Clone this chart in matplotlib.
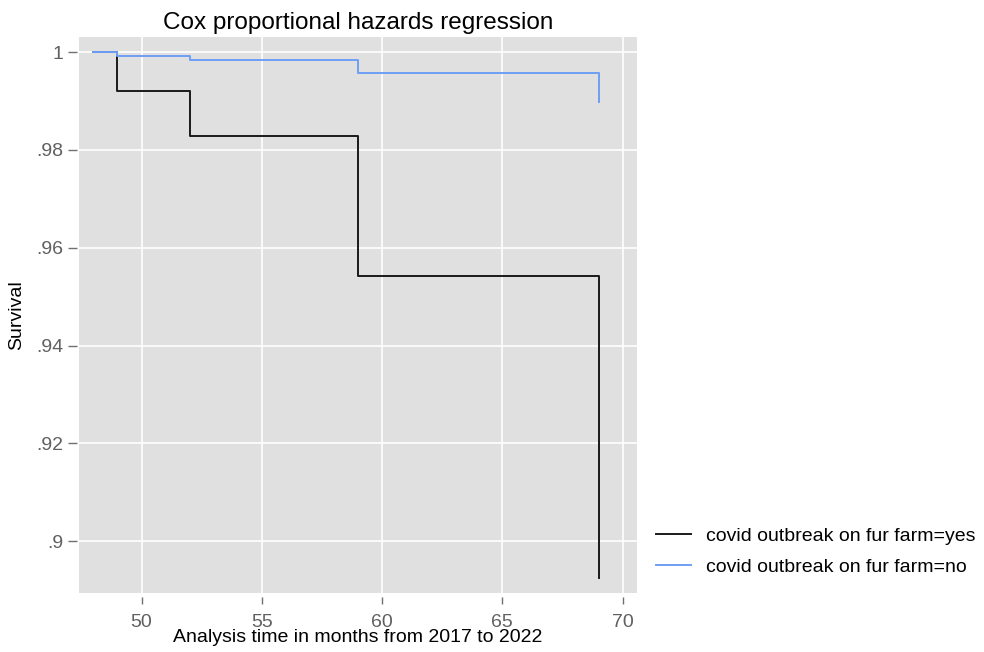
import matplotlib
matplotlib.use("agg")
import matplotlib.pyplot as plt
from matplotlib.ticker import FuncFormatter

# Survival step data (months, survival)
months = [48, 49, 52, 59, 69]
surv_yes = [1.0, 0.9920, 0.9828, 0.9542, 0.8924]
surv_no = [1.0, 0.9993, 0.9984, 0.9957, 0.9898]
labels = ["covid outbreak on fur farm=yes", "covid outbreak on fur farm=no"]

plt.rcParams.update({
    "font.family": ["Liberation Sans", "DejaVu Sans"],
})

fig = plt.figure(figsize=(9.84, 6.52), dpi=100, facecolor="white")
ax = fig.add_axes([79 / 984, 1 - 593 / 652, (637 - 79) / 984, (593 - 37) / 652])
ax.set_facecolor("#e0e0e0")

ax.step(months, surv_yes, where="post", color="#1a1a1a", lw=1.4, label=labels[0])
ax.step(months, surv_no, where="post", color="#6e9ef5", lw=1.4, label=labels[1])

ax.set_xlim(47.4, 70.6)
ax.set_ylim(0.8894, 1.0031)
ax.set_xticks([50, 55, 60, 65, 70])
ax.set_yticks([0.90, 0.92, 0.94, 0.96, 0.98, 1.0])
ax.yaxis.set_major_formatter(FuncFormatter(
    lambda v, p: "1" if abs(v - 1) < 1e-9 else ("%g" % round(v, 2)).lstrip("0")))

ax.grid(True, color="white", lw=1.2)
ax.set_axisbelow(True)
for s in ax.spines.values():
    s.set_visible(False)
# small gap between tick marks and the plot region (Stata look)
ax.spines["left"].set_position(("outward", 1.5))
ax.spines["bottom"].set_position(("outward", 3))
ax.tick_params(colors="#707070", labelcolor="#606060", labelsize=14, length=6.5, width=1, pad=3)
ax.tick_params(axis="x", length=5, pad=7)

ax.set_title("Cox proportional hazards regression", fontsize=17.5, pad=6)
ax.set_xlabel("Analysis time in months from 2017 to 2022", fontsize=14, labelpad=-1)
ax.set_ylabel("Survival", fontsize=14, labelpad=8)

ax.legend(loc="center left", bbox_to_anchor=(1.0, 0.074), frameon=False,
          fontsize=14, handlelength=1.8, handletextpad=0.75, labelspacing=0.7,
          borderaxespad=0.6)

fig.savefig("out.png", dpi=100)
